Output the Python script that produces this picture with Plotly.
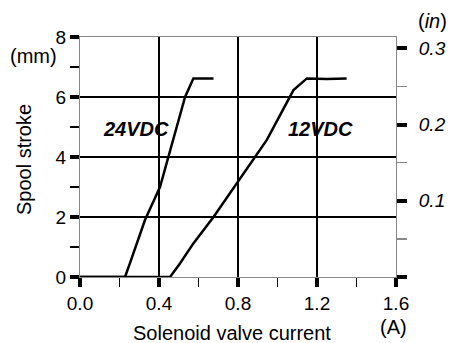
import plotly.graph_objects as go

# ---- data ----
current_24 = [0.0, 0.228, 0.253, 0.329, 0.405, 0.473, 0.532, 0.574, 0.676]
stroke_24 = [0.0, 0.0, 0.46, 1.9, 3.0, 4.57, 6.0, 6.62, 6.62]

current_12 = [0.0, 0.456, 0.507, 0.574, 0.676, 0.794, 0.946, 1.081, 1.149, 1.25, 1.35]
stroke_12 = [0.0, 0.0, 0.46, 1.12, 2.0, 3.12, 4.57, 6.23, 6.62, 6.60, 6.62]

x_ticks = [0.0, 0.4, 0.8, 1.2, 1.6]
x_ticklabels = ["0.0", "0.4", "0.8", "1.2", "1.6"]
x_minor = [0.2, 0.6, 1.0, 1.4]
y_ticks = [0, 2, 4, 6, 8]
y_minor = [1, 3, 5, 7]
in_ticks = [0.0, 0.1, 0.2, 0.3]
in_ticklabels = ["", "0.1", "0.2", "0.3"]
in_minor = [0.05, 0.15, 0.25]
series_labels = ["24VDC", "12VDC"]
label_x = [0.285, 1.216]
label_y = [4.93, 4.93]

FONT = "Liberation Sans, Arial, sans-serif"

fig = go.Figure()
for xs, ys, name in [(current_24, stroke_24, series_labels[0]), (current_12, stroke_12, series_labels[1])]:
    fig.add_trace(go.Scatter(x=xs, y=ys, mode="lines", name=name,
                             line=dict(color="black", width=2.5), showlegend=False,
                             hoverinfo="skip"))
# invisible trace to attach the inch axis
fig.add_trace(go.Scatter(x=[None], y=[None], yaxis="y2", showlegend=False, hoverinfo="skip"))

for lx, ly, t in zip(label_x, label_y, series_labels):
    fig.add_annotation(x=lx, y=ly, text=f"<b><i>{t}</i></b>", showarrow=False,
                       font=dict(family=FONT, size=20, color="black"))

ann_font = dict(family=FONT, size=20, color="black")
fig.add_annotation(xref="paper", yref="paper", x=0.481, y=-0.235, text="Solenoid valve current",
                   showarrow=False, font=ann_font, xanchor="center", yanchor="middle")
fig.add_annotation(xref="paper", yref="paper", x=0.991, y=-0.208, text="(A)",
                   showarrow=False, font=ann_font, xanchor="center", yanchor="middle")
fig.add_annotation(xref="paper", yref="paper", x=-0.146, y=0.921, text="(mm)",
                   showarrow=False, font=ann_font, xanchor="center", yanchor="middle")
fig.add_annotation(xref="paper", yref="paper", x=-0.177, y=0.4875, text="Spool stroke",
                   showarrow=False, font=ann_font, xanchor="center", yanchor="middle", textangle=-90)
fig.add_annotation(xref="paper", yref="paper", x=1.114, y=1.067, text="(<i>in</i>)",
                   showarrow=False, font=ann_font, xanchor="center", yanchor="middle")

fig.update_layout(
    width=463, height=343,
    margin=dict(l=80, r=67, t=37, b=66),
    paper_bgcolor="white", plot_bgcolor="white",
    font=dict(family=FONT, size=19, color="black"),
    hovermode=False,
    xaxis=dict(
        range=[0, 1.6], tickvals=x_ticks, ticktext=x_ticklabels,
        ticks="outside", ticklen=9, tickwidth=4, tickcolor="black",
        showgrid=True, gridcolor="black", gridwidth=2,
        showline=True, linecolor="#888", linewidth=1, mirror=True,
        zeroline=False, tickfont=dict(family=FONT, size=19),
        minor=dict(tickvals=x_minor, ticks="outside", ticklen=9, tickwidth=1.5,
                   tickcolor="black", showgrid=False),
    ),
    yaxis=dict(
        range=[0, 8], tickvals=y_ticks,
        ticks="outside", ticklen=9, tickwidth=4, tickcolor="black",
        showgrid=True, gridcolor="black", gridwidth=2,
        showline=True, linecolor="#888", linewidth=1, mirror=True,
        zeroline=False, tickfont=dict(family=FONT, size=19),
        minor=dict(tickvals=y_minor, ticks="outside", ticklen=9, tickwidth=1.5,
                   tickcolor="black", showgrid=False),
    ),
    yaxis2=dict(
        overlaying="y", side="right", range=[0, 8 / 25.4],
        tickvals=in_ticks, ticktext=in_ticklabels,
        ticks="outside", ticklen=10, tickwidth=4, tickcolor="black",
        showgrid=False, zeroline=False, showline=False,
        ticklabelstandoff=8,
        tickfont=dict(family=FONT, size=19, style="italic"),
        minor=dict(tickvals=in_minor, ticks="outside", ticklen=10, tickwidth=1.5,
                   tickcolor="#888", showgrid=False),
    ),
)

fig.write_html("out.html", config={"displayModeBar": False, "staticPlot": True},
               post_script="document.body.style.margin='0';document.body.style.padding='0';")
